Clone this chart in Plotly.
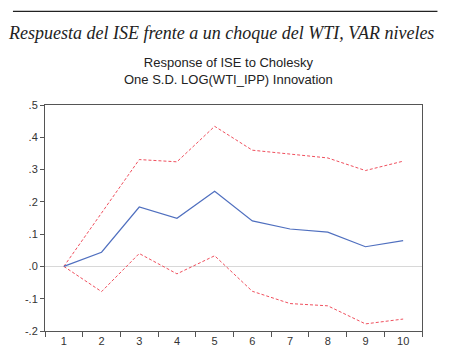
import plotly.graph_objects as go

periods = [1, 2, 3, 4, 5, 6, 7, 8, 9, 10]
response = [0.0, 0.044, 0.184, 0.149, 0.233, 0.141, 0.116, 0.106, 0.061, 0.080]
upper = [0.0, 0.165, 0.331, 0.324, 0.434, 0.360, 0.347, 0.336, 0.297, 0.326]
lower = [0.0, -0.078, 0.040, -0.023, 0.033, -0.077, -0.115, -0.122, -0.178, -0.163]
ytick_vals = [0.5, 0.4, 0.3, 0.2, 0.1, 0.0, -0.1, -0.2]
ytick_text = [".5", ".4", ".3", ".2", ".1", ".0", "-.1", "-.2"]

fig = go.Figure()
fig.add_trace(go.Scatter(x=periods, y=upper, mode="lines",
                         line=dict(color="#f0505e", width=1, dash="3px,2px")))
fig.add_trace(go.Scatter(x=periods, y=lower, mode="lines",
                         line=dict(color="#f0505e", width=1, dash="3px,2px")))
fig.add_trace(go.Scatter(x=periods, y=response, mode="lines",
                         line=dict(color="#4f6fbf", width=1.2)))

fig.update_layout(
    width=442, height=353,
    margin=dict(l=37, r=28, t=97, b=30),
    paper_bgcolor="white", plot_bgcolor="white",
    showlegend=False,
    font=dict(family="Liberation Sans, Arial, sans-serif", color="#333"),
    xaxis=dict(range=[0.5, 10.5], tickvals=periods, ticks="", showgrid=False,
               zeroline=False, showline=True, linecolor="#555", linewidth=1,
               mirror=True, tickfont=dict(size=11, color="#333"),
               minor=dict(tick0=0.5, dtick=1, ticks="outside", ticklen=5,
                          tickcolor="#555", showgrid=False)),
    yaxis=dict(range=[-0.2, 0.5], tickvals=ytick_vals, ticktext=ytick_text,
               ticks="outside", ticklen=4, tickcolor="#555", showgrid=False,
               zeroline=True, zerolinecolor="#d8d8d8", zerolinewidth=1,
               showline=True, linecolor="#555", linewidth=1, mirror=True,
               tickfont=dict(size=11, color="#333")),
    shapes=[dict(type="line", xref="paper", yref="paper",
                 x0=-0.085, x1=1.041, y0=1.414, y1=1.414,
                 line=dict(color="#222", width=1.2))],
    annotations=[
        dict(text="<i>Respuesta del ISE frente a un choque del WTI, VAR niveles</i>",
             xref="paper", yref="paper", x=0.467, y=1.317, showarrow=False,
             xanchor="center", yanchor="middle",
             font=dict(family="Liberation Serif, Times New Roman, serif", size=18, color="#222")),
        dict(text="Response of ISE to Cholesky<br>One S.D. LOG(WTI_IPP) Innovation",
             xref="paper", yref="paper", x=0.486, y=1.151, showarrow=False,
             xanchor="center", yanchor="middle",
             font=dict(family="Liberation Sans, Arial, sans-serif", size=13, color="#222")),
    ],
)

fig.write_html("out.html")
